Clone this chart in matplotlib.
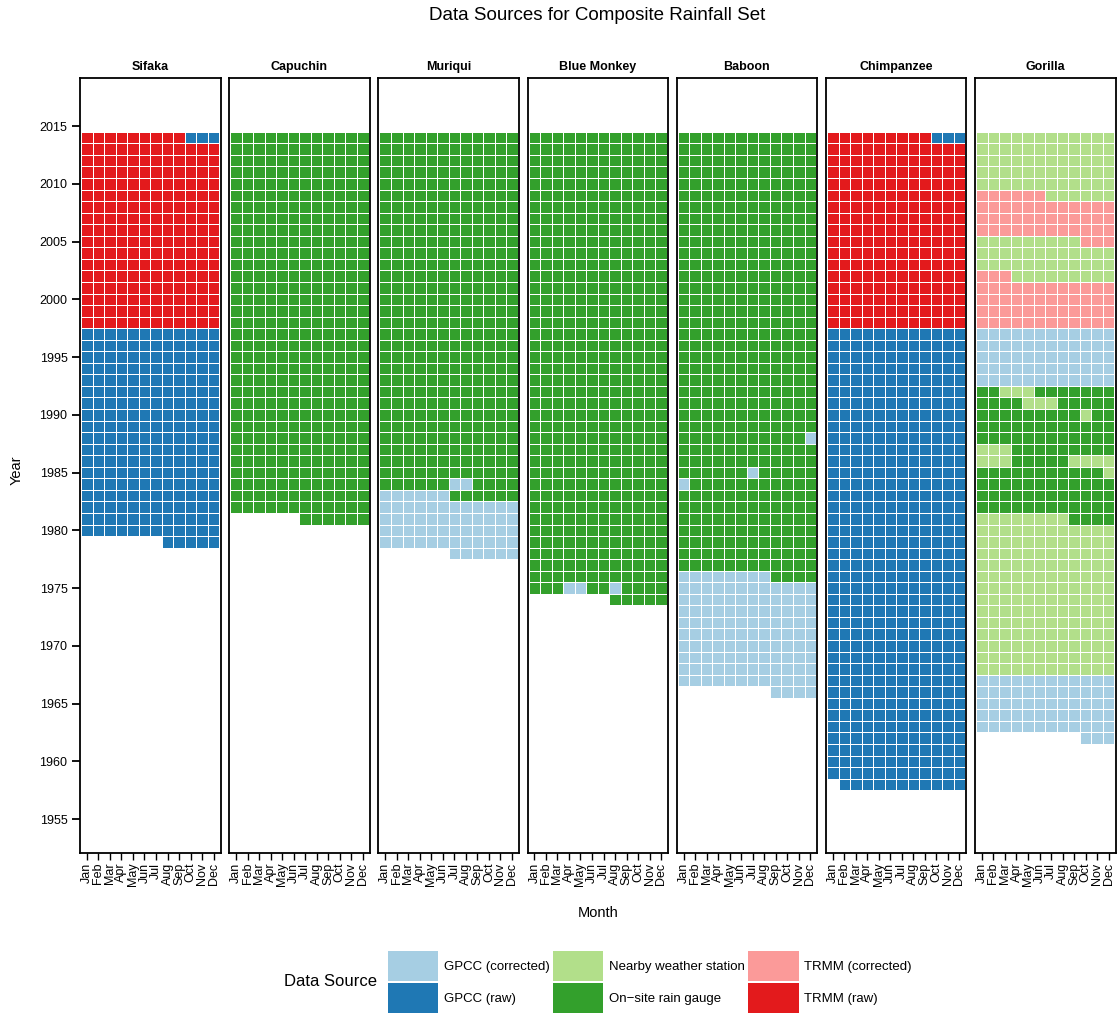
"""
    plot.py

    Tile chart of the monthly rainfall data source used for each field site
    in the composite rainfall set. One panel per site, months across,
    years going up.
"""

import numpy as np
import matplotlib
matplotlib.use('Agg')
from matplotlib import pyplot as plt
from matplotlib.colors import ListedColormap
from matplotlib.patches import Patch

plt.rcParams['font.family'] = ['Liberation Sans', 'DejaVu Sans']

# data source categories and their colours
source_keys = ["GC", "GR", "NW", "OS", "TC", "TR"]
source_labels = ["GPCC (corrected)", "GPCC (raw)", "Nearby weather station",
                 "On\u2212site rain gauge", "TRMM (corrected)", "TRMM (raw)"]
source_colors = ["#A6CEE3", "#1F78B4", "#B2DF8A", "#33A02C", "#FB9A99", "#E31A1C"]

months = ["Jan", "Feb", "Mar", "Apr", "May", "Jun",
          "Jul", "Aug", "Sep", "Oct", "Nov", "Dec"]
sites = ["Sifaka", "Capuchin", "Muriqui", "Blue Monkey", "Baboon",
         "Chimpanzee", "Gorilla"]

# runs of months: (first month, last month, source)
sifaka = [("1979-08", "1997-12", "GR"),
          ("1998-01", "2014-09", "TR"),
          ("2014-10", "2014-12", "GR")]

capuchin = [("1981-07", "2014-12", "OS")]

muriqui = [("1978-07", "1983-06", "GC"),
           ("1983-07", "1984-06", "OS"),
           ("1984-07", "1984-08", "GC"),
           ("1984-09", "2014-12", "OS")]

blue_monkey = [("1974-08", "1975-03", "OS"),
               ("1975-04", "1975-05", "GC"),
               ("1975-06", "1975-07", "OS"),
               ("1975-08", "1975-08", "GC"),
               ("1975-09", "2014-12", "OS")]

baboon = [("1966-09", "1976-08", "GC"),
          ("1976-09", "1983-12", "OS"),
          ("1984-01", "1984-01", "GC"),
          ("1984-02", "1985-06", "OS"),
          ("1985-07", "1985-07", "GC"),
          ("1985-08", "1988-11", "OS"),
          ("1988-12", "1988-12", "GC"),
          ("1989-01", "2014-12", "OS")]

chimpanzee = [("1958-02", "1997-12", "GR"),
              ("1998-01", "2014-09", "TR"),
              ("2014-10", "2014-12", "GR")]

gorilla = [("1962-10", "1967-12", "GC"),
           ("1968-01", "1981-08", "NW"),
           ("1981-09", "1985-11", "OS"),
           ("1985-12", "1986-03", "NW"),
           ("1986-04", "1986-08", "OS"),
           ("1986-09", "1987-03", "NW"),
           ("1987-04", "1990-09", "OS"),
           ("1990-10", "1990-10", "NW"),
           ("1990-11", "1991-04", "OS"),
           ("1991-05", "1991-07", "NW"),
           ("1991-08", "1992-02", "OS"),
           ("1992-03", "1992-05", "NW"),
           ("1992-06", "1992-12", "OS"),
           ("1993-01", "1997-12", "GC"),
           ("1998-01", "2002-03", "TC"),
           ("2002-04", "2005-09", "NW"),
           ("2005-10", "2009-06", "TC"),
           ("2009-07", "2014-12", "NW")]

site_runs = [sifaka, capuchin, muriqui, blue_monkey, baboon, chimpanzee, gorilla]

YEAR_LO, YEAR_HI = 1950, 2020
years = np.arange(YEAR_LO, YEAR_HI + 1)


def month_grid(runs):
    """Turn a list of runs into a (year, month) array of source indices."""
    grid = np.full((len(years), 12), -1)
    for start, end, src in runs:
        y0, m0 = map(int, start.split('-'))
        y1, m1 = map(int, end.split('-'))
        for k in range(y0 * 12 + m0 - 1, y1 * 12 + m1):
            grid[k // 12 - YEAR_LO, k % 12] = source_keys.index(src)
    return np.ma.masked_less(grid, 0)


W, H = 1119, 1017
fig = plt.figure(figsize=(W / 100, H / 100), dpi=100)

cmap = ListedColormap(source_colors)
xedges = np.arange(0.5, 13.5)
yedges = np.append(years - 0.5, years[-1] + 0.5)

panel_w = 140.5
for i, (name, runs) in enumerate(zip(sites, site_runs)):
    left = 80 + i * 149.17
    ax = fig.add_axes([left / W, 1 - 853 / H, panel_w / W, 775 / H])
    ax.pcolormesh(xedges, yedges, month_grid(runs), cmap=cmap,
                  vmin=-0.5, vmax=5.5, edgecolors='white', linewidth=0.65)
    ax.set_xlim(0.4, 12.6)
    ax.set_ylim(1952.06, 2019.16)
    for s in ax.spines.values():
        s.set_linewidth(1.3)
        s.set_color('black')
    ax.set_xticks(np.arange(1, 13))
    ax.set_xticklabels(months, rotation=90, fontsize=9)
    ax.tick_params(axis='x', length=5, width=1, pad=2)
    ax.set_yticks(np.arange(1955, 2016, 5))
    if i == 0:
        ax.tick_params(axis='y', length=6, width=1.3, pad=3, labelsize=9)
    else:
        ax.tick_params(axis='y', left=False, labelleft=False)
    ax.set_title(name, fontsize=9, fontweight='bold', pad=6)

fig.text(0.534, 1 - 16 / H, "Data Sources for Composite Rainfall Set",
         ha='center', va='center', fontsize=13.5)
fig.text(17 / W, 1 - 470 / H, "Year", rotation=90, ha='center', va='center',
         fontsize=10.5)
fig.text(598 / W, 1 - 913 / H, "Month", ha='center', va='center', fontsize=10.5)

# legend along the bottom, filled column by column
handles = [Patch(facecolor=c, edgecolor='none') for c in source_colors]
fig.legend(handles, source_labels, ncol=3, loc='center left',
           bbox_to_anchor=(388 / W, 1 - 982 / H), frameon=False, fontsize=9.5,
           handlelength=3.8, handleheight=3.16, handletextpad=0.45,
           labelspacing=0.15, columnspacing=0.25, borderpad=0, borderaxespad=0)
fig.text(331 / W, 1 - 982 / H, "Data Source", ha='center', va='center',
         fontsize=12)

fig.savefig('out.png', dpi=100)
